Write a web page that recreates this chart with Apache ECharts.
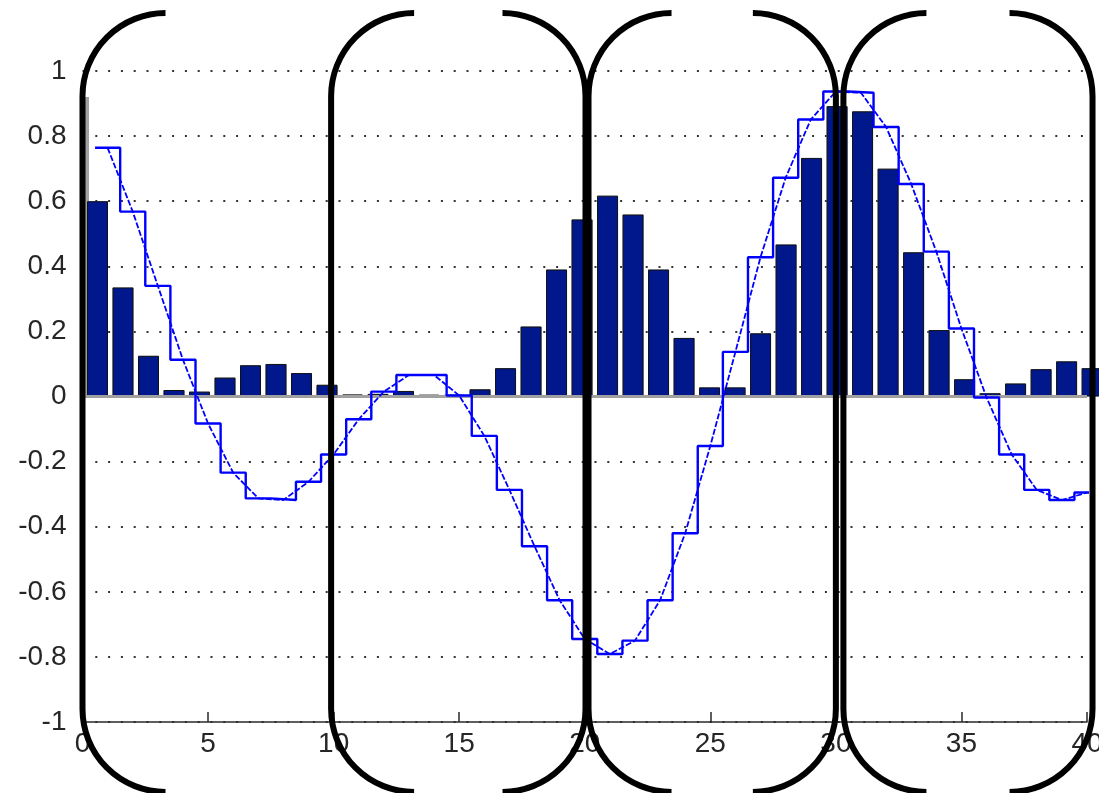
<!DOCTYPE html>
<html>
<head>
<meta charset="utf-8">
<script src="https://cdn.jsdelivr.net/npm/echarts@6/dist/echarts.min.js"></script>
<style>
  html, body { margin: 0; padding: 0; background: #ffffff; }
  #chart { width: 1099px; height: 793px; }
</style>
</head>
<body>
<div id="chart"></div>
<script>
// ---- data ----
// sample index (1..40)
const sampleIndex = [1,2,3,4,5,6,7,8,9,10,11,12,13,14,15,16,17,18,19,20,
                     21,22,23,24,25,26,27,28,29,30,31,32,33,34,35,36,37,38,39,40];
// bar heights (navy bars)
const barValues = [0.60, 0.335, 0.125, 0.02, 0.015, 0.058, 0.096, 0.10, 0.072, 0.036,
                   0.006, 0.008, 0.017, 0.005, 0.005, 0.022, 0.087, 0.215, 0.39, 0.544,
                   0.617, 0.559, 0.39, 0.18, 0.028, 0.028, 0.194, 0.467, 0.733, 0.892,
                   0.876, 0.70, 0.443, 0.204, 0.053, 0.01, 0.04, 0.084, 0.108, 0.087];
// signal samples (blue line and blue stairs)
const signalValues = [0.764, 0.568, 0.34, 0.113, -0.083, -0.234, -0.313, -0.318, -0.262, -0.178,
                      -0.07, 0.015, 0.066, 0.066, 0.003, -0.121, -0.287, -0.46, -0.626, -0.745,
                      -0.791, -0.75, -0.626, -0.42, -0.152, 0.137, 0.428, 0.672, 0.851, 0.937,
                      0.933, 0.828, 0.653, 0.445, 0.209, -0.003, -0.178, -0.287, -0.318, -0.295];
// grey strip at the left edge
const edgeStrip = [[0.18, 0.92]];
// frame brackets: x position and opening side
const bracketX = [0, 9.9, 20.03, 20.15, 30.0, 30.3, 40.22];
const bracketSide = ['(', '(', ')', '(', ')', '(', ')'];
// axis ticks
const xTickStep = 5;
const yTickStep = 0.2;

// ---- build series data ----
const barData = sampleIndex.map((k, i) => [k, barValues[i]]);
const lineData = sampleIndex.map((k, i) => [k, signalValues[i]]);
const stairData = sampleIndex.map((k, i) => [k - 0.5, signalValues[i]]);
stairData.push([sampleIndex[sampleIndex.length - 1] + 0.5, signalValues[signalValues.length - 1]]);
const bracketData = bracketX.map((x, i) => [x, bracketSide[i] === '(' ? 1 : -1]);

const FONT = "'Liberation Sans', Arial, Helvetica, sans-serif";
const chart = echarts.init(document.getElementById('chart'), null, { renderer: 'canvas' });

const option = {
  backgroundColor: '#ffffff',
  animation: false,
  grid: { left: 82.5, right: 12, top: 71, bottom: 71, containLabel: false, outerBoundsMode: 'none' },
  xAxis: [
    {
      type: 'value', min: 0, max: 40, interval: xTickStep,
      axisLine: { show: true, onZero: false, lineStyle: { color: '#2a2a2a', width: 1.5 } },
      axisTick: { show: true, inside: true, length: 10, lineStyle: { color: '#2a2a2a', width: 1.5 } },
      axisLabel: { fontSize: 28, fontFamily: FONT, color: '#262626', margin: 8 },
      splitLine: { show: false }
    },
    {
      type: 'value', min: 0.412, max: 39.80, show: false,
      axisLine: { show: false, onZero: false }, axisTick: { show: false }, axisLabel: { show: false },
      splitLine: { show: false }
    }
  ],
  yAxis: {
    type: 'value', min: -1, max: 1, interval: yTickStep,
    axisLine: { show: false },
    axisTick: { show: false },
    axisLabel: {
      fontSize: 28, fontFamily: FONT, color: '#262626', margin: 16,
      formatter: v => String(+v.toFixed(1))
    },
    splitLine: { show: true, lineStyle: { color: '#333333', width: 2, type: [2, 10.8] } }
  },
  series: [
    {
      name: 'edge', type: 'bar', xAxisIndex: 0, data: edgeStrip, barWidth: 4,
      itemStyle: { color: '#a0a0a0' }, silent: true, z: 2
    },
    {
      name: 'barHalo', type: 'bar', xAxisIndex: 1, data: barData, barWidth: 21, barGap: '-100%',
      itemStyle: { color: '#a8a8a8', borderColor: '#a8a8a8', borderWidth: 3 },
      silent: true, z: 2,
      markLine: {
        silent: true, symbol: 'none', label: { show: false },
        lineStyle: { color: '#a0a0a0', width: 3, type: 'solid' },
        data: [{ yAxis: 0 }]
      }
    },
    {
      name: 'bars', type: 'bar', xAxisIndex: 1, data: barData, barWidth: 21, barGap: '-100%',
      itemStyle: { color: '#00188c', borderColor: '#111111', borderWidth: 1 },
      silent: true, z: 3
    },
    {
      name: 'stairs', type: 'line', xAxisIndex: 0, data: stairData, step: 'end',
      showSymbol: false, symbol: 'none',
      lineStyle: { color: '#0000ff', width: 2.4 }, z: 5
    },
    {
      name: 'signal', type: 'line', xAxisIndex: 0, data: lineData,
      showSymbol: false, symbol: 'none',
      lineStyle: { color: '#0000ff', width: 1.8, type: [6, 2] }, z: 5
    },
    {
      name: 'brackets', type: 'custom', xAxisIndex: 0, data: bracketData, clip: false, z: 10,
      silent: true,
      renderItem: function (params, api) {
        const x = api.value(0);
        const dir = api.value(1);
        const top = api.coord([x, 0.923]);
        const bot = api.coord([x, -0.96]);
        const r = 83;
        const px = top[0];
        const sweep = dir > 0 ? 0 : 1;
        const d = 'M' + (px + dir * r) + ',' + (top[1] - r) +
          ' A' + r + ',' + r + ' 0 0 ' + sweep + ' ' + px + ',' + top[1] +
          ' L' + px + ',' + bot[1] +
          ' A' + r + ',' + r + ' 0 0 ' + sweep + ' ' + (px + dir * r) + ',' + (bot[1] + r);
        return {
          type: 'path',
          shape: { pathData: d },
          style: { stroke: '#000000', lineWidth: 6, fill: null }
        };
      }
    }
  ]
};
chart.setOption(option);
</script>
</body>
</html>
